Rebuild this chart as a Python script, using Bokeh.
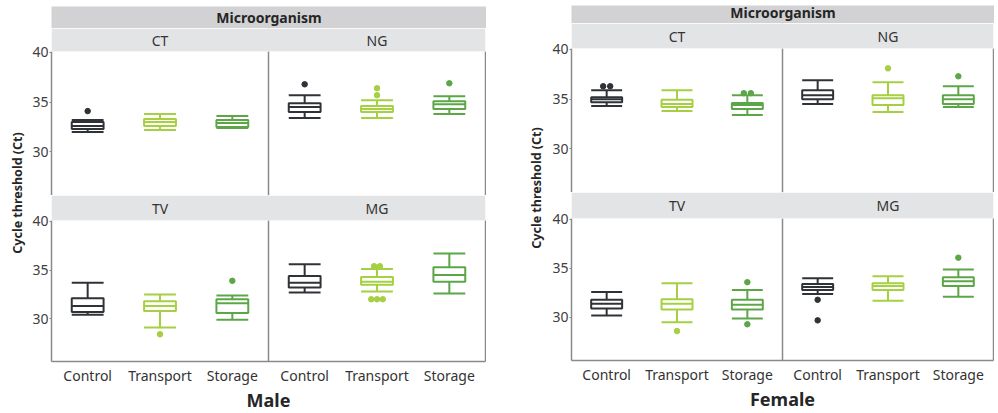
import math
from bokeh.plotting import figure
from bokeh.models import (Range1d, FactorRange, LinearAxis, CategoricalAxis, FixedTicker,
                          BoxAnnotation, ColumnDataSource, Spacer, Span)
from bokeh.transform import dodge
from bokeh.layouts import row, column
from bokeh.core.properties import value
from bokeh.embed import file_html
from bokeh.resources import INLINE

# ---------------- data ----------------
treatments = ["Control", "Transport", "Storage"]
organisms = ["CT", "NG", "TV", "MG"]
treatment_colors = ["#2f3237", "#a4d042", "#5ca648"]
header_text = "Microorganism"
y_title = "Cycle threshold (Ct)"
y_ticks = [30, 35, 40]
sexes = ["Male", "Female"]

# order: CT(Control, Transport, Storage), NG(...), TV(...), MG(...)
male_lo  = [32.0, 32.2, 32.4,  33.4, 33.4, 33.8,  30.4, 29.1, 29.9,  32.7, 32.8, 32.6]
male_q1  = [32.3, 32.6, 32.5,  34.0, 34.0, 34.3,  30.7, 30.8, 30.6,  33.2, 33.5, 33.8]
male_med = [32.6, 33.0, 32.9,  34.5, 34.3, 34.8,  31.3, 31.3, 31.6,  33.7, 33.8, 34.5]
male_q3  = [33.0, 33.3, 33.2,  34.9, 34.6, 35.1,  32.1, 31.8, 32.0,  34.4, 34.3, 35.3]
male_hi  = [33.2, 33.8, 33.6,  35.7, 35.2, 35.6,  33.7, 32.5, 32.4,  35.6, 35.1, 36.7]

male_out_org = ["CT", "NG", "NG", "NG", "NG", "TV", "TV", "MG", "MG", "MG", "MG", "MG"]
male_out_trt = ["Control", "Control", "Transport", "Transport", "Storage", "Transport", "Storage",
                "Transport", "Transport", "Transport", "Transport", "Transport"]
male_out_val = [34.1, 36.8, 36.4, 35.7, 36.9, 28.4, 33.9, 35.4, 35.4, 32.0, 32.0, 32.0]
male_out_dx  = [0.0, 0.0, 0.0, 0.0, 0.0, 0.0, 0.0, -0.04, 0.04, -0.08, 0.0, 0.08]

female_lo  = [34.3, 33.8, 33.4,  34.5, 33.7, 34.2,  30.2, 29.5, 29.9,  32.4, 31.7, 32.1]
female_q1  = [34.7, 34.2, 34.0,  35.0, 34.4, 34.5,  30.9, 30.8, 30.8,  32.8, 32.8, 33.2]
female_med = [35.0, 34.5, 34.4,  35.4, 35.1, 35.0,  31.4, 31.4, 31.3,  33.1, 33.2, 33.7]
female_q3  = [35.2, 34.95, 34.6, 35.9, 35.4, 35.4,  31.8, 31.85, 31.8, 33.4, 33.5, 34.1]
female_hi  = [35.9, 35.9, 35.4,  36.9, 36.7, 36.3,  32.6, 33.5, 32.8,  34.0, 34.2, 34.9]

female_out_org = ["CT", "CT", "CT", "CT", "NG", "NG", "TV", "TV", "TV", "MG", "MG", "MG"]
female_out_trt = ["Control", "Control", "Storage", "Storage", "Transport", "Storage",
                  "Transport", "Storage", "Storage", "Control", "Control", "Storage"]
female_out_val = [36.3, 36.3, 35.6, 35.6, 38.1, 37.3, 28.6, 33.6, 29.3, 31.8, 29.7, 36.1]
female_out_dx  = [-0.05, 0.05, -0.05, 0.05, 0.0, 0.0, 0.0, 0.0, 0.0, 0.0, 0.0, 0.0]

# ---------------- style ----------------
FONT = "Noto Sans"
AXIS_COLOR = "#8a8a8a"
STRIP_COLOR = "#e3e4e6"
HEADER_COLOR = "#d2d2d4"
TEXT_COLOR = "#333333"
Y_LO, Y_HI = 25.6, 40.1
BOX_W = 0.44
PAGE_H = 413


def base_fig(**kw):
    p = figure(output_backend="svg", toolbar_location=None,
               x_axis_location=None, y_axis_location=None, **kw)
    p.outline_line_color = None
    p.grid.grid_line_color = None
    p.background_fill_color = "white"
    p.border_fill_color = "white"
    return p


def text_fig(txt, fw, fh, left=0, top=0, bottom=0, size="14px", bold=True, angle=0.0,
             bg="white", tx=0.5, ty=0.5):
    p = base_fig(x_range=Range1d(0, 1), y_range=Range1d(0, 1), frame_width=fw, frame_height=fh,
                 min_border_left=left, min_border_right=0, min_border_top=top,
                 min_border_bottom=bottom)
    p.background_fill_color = bg
    p.text(x=[tx], y=[ty], text=[txt], angle=angle, text_align="center",
           text_baseline="middle", text_font=value(FONT), text_font_size=size,
           text_font_style="bold" if bold else "normal", text_color="#262626")
    return p


def make_row(orgs, stats, outs, strip_h, plot_h, facet_w, left_b, sex_label):
    lo_a, q1_a, med_a, q3_a, hi_a = stats
    n_t = len(treatments)
    factors = [(o, t) for o in orgs for t in treatments]
    idx = [organisms.index(o) * n_t + j for o in orgs for j in range(n_t)]
    y_end = Y_HI + strip_h * (Y_HI - Y_LO) / plot_h
    x_range = FactorRange(*factors, range_padding=0, group_padding=0, factor_padding=0)
    p = base_fig(x_range=x_range, y_range=Range1d(Y_LO, y_end),
                 frame_width=facet_w * len(orgs), frame_height=strip_h + plot_h,
                 min_border_left=left_b, min_border_right=1, min_border_top=0,
                 min_border_bottom=0)

    yax = LinearAxis(bounds=(Y_LO, Y_HI), ticker=FixedTicker(ticks=y_ticks))
    yax.axis_line_color = AXIS_COLOR
    yax.axis_line_width = 1.5
    yax.major_tick_line_color = AXIS_COLOR
    yax.major_tick_out = 2
    yax.major_tick_in = 0
    yax.minor_tick_line_color = None
    yax.minor_tick_out = 0
    yax.major_label_standoff = 1
    yax.major_label_text_font = FONT
    yax.major_label_text_font_size = "14px"
    yax.major_label_text_color = "#404040"
    p.add_layout(yax, "left")

    rax = LinearAxis(bounds=(Y_LO, Y_HI), ticker=FixedTicker(ticks=[]))
    rax.axis_line_color = AXIS_COLOR
    rax.axis_line_width = 1.5
    rax.major_tick_line_color = None
    rax.minor_tick_line_color = None
    rax.major_tick_out = 0
    rax.major_tick_in = 0
    rax.minor_tick_out = 0
    rax.major_label_text_font_size = "0px"
    rax.major_label_standoff = 0
    p.add_layout(rax, "right")

    if sex_label is not None:
        xax = CategoricalAxis(axis_label=sex_label)
        xax.axis_line_color = AXIS_COLOR
        xax.axis_line_width = 1.5
        xax.major_tick_line_color = None
        xax.minor_tick_line_color = None
        xax.major_tick_out = 0
        xax.major_tick_in = 0
        xax.major_label_standoff = 4
        xax.major_label_text_font = FONT
        xax.major_label_text_font_size = "14px"
        xax.major_label_text_color = TEXT_COLOR
        xax.group_text_font_size = "0px"
        xax.group_text_color = None
        xax.separator_line_color = None
        xax.axis_label_standoff = 0
        xax.axis_label_text_font = FONT
        xax.axis_label_text_font_size = "18px"
        xax.axis_label_text_font_style = "bold"
        xax.axis_label_text_color = "#262626"
        p.add_layout(xax, "below")

    src = ColumnDataSource(dict(
        x=factors,
        lo=[lo_a[i] for i in idx], q1=[q1_a[i] for i in idx], med=[med_a[i] for i in idx],
        q3=[q3_a[i] for i in idx], hi=[hi_a[i] for i in idx],
        color=treatment_colors * len(orgs)))

    p.segment(x0="x", y0="q3", x1="x", y1="hi", source=src, line_color="color", line_width=2)
    p.segment(x0="x", y0="q1", x1="x", y1="lo", source=src, line_color="color", line_width=2)
    p.vbar(x="x", top="q3", bottom="q1", width=BOX_W, source=src, fill_color="white",
           line_color="color", line_width=2)
    left = dodge("x", -BOX_W / 2, range=p.x_range)
    right = dodge("x", BOX_W / 2, range=p.x_range)
    p.segment(x0=left, y0="med", x1=right, y1="med", source=src, line_color="color", line_width=2)
    p.segment(x0=left, y0="hi", x1=right, y1="hi", source=src, line_color="color", line_width=2)
    p.segment(x0=left, y0="lo", x1=right, y1="lo", source=src, line_color="color", line_width=2)

    o_org, o_trt, o_val, o_dx = outs
    xs, ys, cs = [], [], []
    for og, t, v, d in zip(o_org, o_trt, o_val, o_dx):
        if og in orgs:
            xs.append((og, t, d))
            ys.append(v)
            cs.append(treatment_colors[treatments.index(t)])
    if xs:
        p.scatter(x=xs, y=ys, color=cs, size=5.5)

    # facet divider, then strips on top of it
    for i in range(1, len(orgs)):
        p.add_layout(Span(location=i * n_t, dimension="height", line_color=AXIS_COLOR,
                          line_width=1.5))
    for i, o in enumerate(orgs):
        p.add_layout(BoxAnnotation(left=i * n_t, right=(i + 1) * n_t, bottom=Y_HI, top=y_end,
                                   fill_color=STRIP_COLOR, fill_alpha=1.0,
                                   line_color="white", line_width=1))
    p.text(x=[(o, treatments[1]) for o in orgs], y=[(Y_HI + y_end) / 2] * len(orgs),
           text=list(orgs), text_align="center", text_baseline="middle",
           text_font=value(FONT), text_font_size="14px", text_color=TEXT_COLOR,
           level="overlay")
    return p


def make_half(sex, stats, outs, lay):
    fw = lay["facet_w"]
    lb = lay["left_b"]
    top_row = make_row(organisms[:2], stats, outs, lay["s1"], lay["p1"], fw, lb, None)
    bot_row = make_row(organisms[2:], stats, outs, lay["s2"], lay["p2"], fw, lb, sex)
    hdr = text_fig(header_text, 2 * fw + 1, lay["hdr_h"], left=lb, top=lay["hdr_top"],
                   size="14px", bold=True, bg=HEADER_COLOR, ty=lay["hdr_ty"])
    ylab = text_fig(y_title, lay["ylab_w"], PAGE_H - 4, size="12.5px", bold=True,
                    angle=math.pi / 2, tx=lay["ylab_tx"], ty=lay["ylab_ty"])
    col = column(hdr, top_row, bot_row)
    return row(ylab, col)


male_lay = dict(hdr_top=6, hdr_h=22, hdr_ty=0.5, s1=23, p1=144, s2=25, p2=141,
                facet_w=217, left_b=23, ylab_w=28, ylab_tx=17 / 28,
                ylab_ty=1 - 192.5 / (PAGE_H - 4))
female_lay = dict(hdr_top=5, hdr_h=18, hdr_ty=0.6, s1=25, p1=144, s2=26, p2=142,
                  facet_w=211, left_b=23, ylab_w=28, ylab_tx=16 / 28,
                  ylab_ty=1 - 187.5 / (PAGE_H - 4))

male = make_half(sexes[0], (male_lo, male_q1, male_med, male_q3, male_hi),
                 (male_out_org, male_out_trt, male_out_val, male_out_dx), male_lay)
female = make_half(sexes[1], (female_lo, female_q1, female_med, female_q3, female_hi),
                   (female_out_org, female_out_trt, female_out_val, female_out_dx), female_lay)

layout = row(male, Spacer(width=34, height=10), female)

open("out.html", "w").write(file_html(layout, INLINE))
